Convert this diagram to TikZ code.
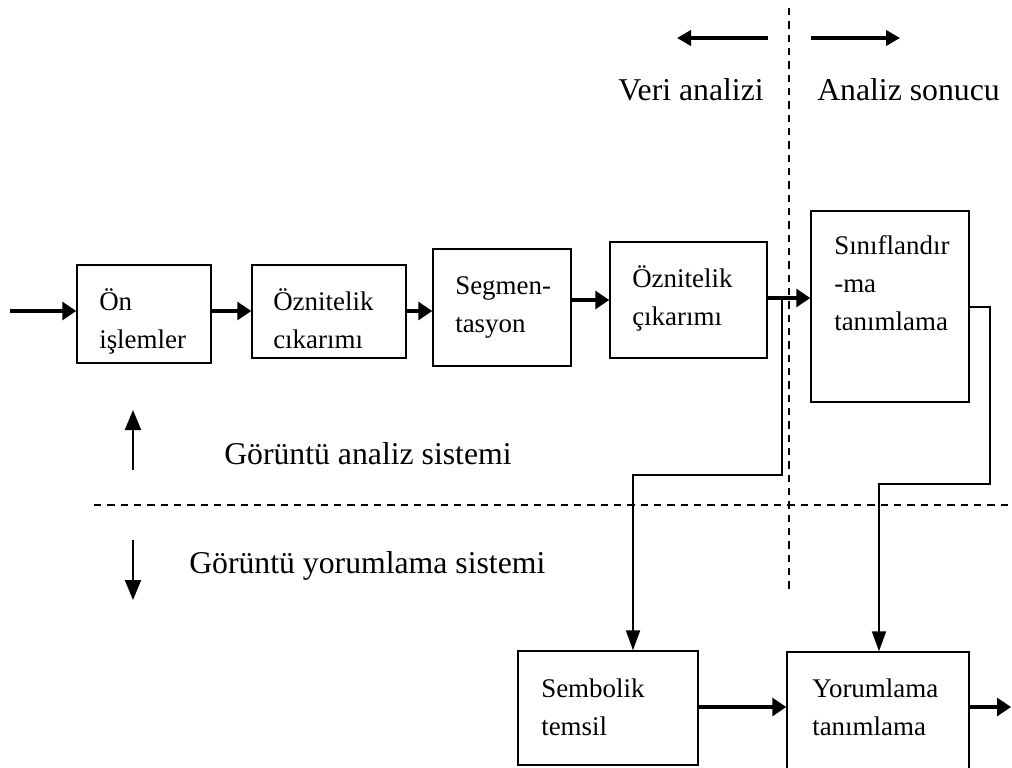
\documentclass[tikz,border=0pt]{standalone}
\usepackage{fontspec}
\setmainfont{Liberation Serif}
\usetikzlibrary{arrows.meta,fit}
\begin{document}
\begin{tikzpicture}[x=0.75pt,y=-0.75pt,
  box/.style={draw,line width=1.1pt,inner sep=0pt},
  boxtext/.style={anchor=base west,inner sep=0pt,align=left,font=\fontsize{20.2}{28.5}\selectfont},
  bigtext/.style={anchor=base west,inner sep=0pt,font=\fontsize{23.8}{28}\selectfont},
  flow/.style={line width=2.3pt,-{Triangle[length=10.5pt,width=13.5pt]}},
  drop/.style={line width=1.5pt,-{Triangle[length=15pt,width=10.5pt]}},
  hint/.style={line width=2.3pt,-{Triangle[length=10.5pt,width=11.5pt]}},
  updown/.style={line width=1.5pt,-{Triangle[length=15pt,width=12pt]}},
  sep/.style={line width=1.5pt,dash pattern=on 5.5pt off 4.5pt},
]
\useasboundingbox (0,0) rectangle (1012,767);

% processing blocks
\node[box,fit={(77,265) (211,363)}]  (on)  {};
\node[box,fit={(252,265) (406,358)}] (oz1) {};
\node[box,fit={(433,249) (571,366)}] (seg) {};
\node[box,fit={(610,242) (767,358)}] (oz2) {};
\node[box,fit={(811,211) (969,402)}] (sin) {};
\node[box,fit={(518,651) (698,765)}] (sem) {};
\node[box,fit={(787,652) (969,800)}] (yor) {};

% block captions (placed by the baseline of their last line)
\node[boxtext] (onT)  at (99,348)  {Ön\\işlemler};
\node[boxtext] (oz1T) at (273,348) {Öznitelik\\cıkarımı};
\node[boxtext] (segT) at (455,332) {Segmen-\\tasyon};
\node[boxtext] (oz2T) at (632,325) {Öznitelik\\çıkarımı};
\node[boxtext] (sinT) at (834,330) {Sınıflandır\\-ma\\tanımlama};
\node[boxtext] (semT) at (541,735) {Sembolik\\temsil};
\node[boxtext] (yorT) at (812,735) {Yorumlama\\tanımlama};

% region separators
\coordinate (vtop) at (789,8);
\coordinate (vbot) at (789,589);
\coordinate (hl) at (94,505);
\coordinate (hr) at (1008,505);
\draw[sep] (vtop) -- (vbot);
\draw[sep] (hl) -- (hr);

% region labels
\coordinate (la) at (768,38);
\coordinate (lb) at (677,38);
\coordinate (ra) at (811,38);
\coordinate (rb) at (900,38);
\draw[hint] (la) -- (lb);
\draw[hint] (ra) -- (rb);
\node[bigtext] (veri)  at (618,100) {Veri analizi};
\node[bigtext] (sonuc) at (817,100) {Analiz sonucu};

\coordinate (ua) at (133,470);
\coordinate (ub) at (133,410);
\coordinate (da) at (133,540);
\coordinate (db) at (133,600);
\draw[updown] (ua) -- (ub);
\draw[updown] (da) -- (db);
\node[bigtext] (analiz) at (224,464) {Görüntü analiz sistemi};
\node[bigtext] (yorum)  at (189,573) {Görüntü yorumlama sistemi};

% main chain
\coordinate (src) at (10,311);
\draw[flow] (src) -- (src -| on.west);
\draw[flow] (on.east |- src) -- (oz1.west |- src);
\draw[flow] (oz1.east |- src) -- (seg.west |- src);
\draw[flow] (seg.east |- oz2.west) -- (oz2.west);
\coordinate (tap) at (782,298);
\draw[flow] (oz2.east |- tap) -- (sin.west |- tap);

% branch to symbolic representation
\coordinate (k1) at (782,475);
\coordinate (k2) at (633,475);
\draw[drop] (tap) -- (k1) -- (k2) -- (k2 |- sem.north);

% classification to interpretation
\coordinate (k3) at (990,484);
\coordinate (k4) at (879,484);
\draw[drop] (sin.east) -- (sin.east -| k3) -- (k3) -- (k4) -- (k4 |- yor.north);

% lower chain
\coordinate (out) at (1011,707);
\draw[flow] (sem.east |- out) -- (yor.west |- out);
\draw[flow] (yor.east |- out) -- (out);
\end{tikzpicture}
\end{document}
